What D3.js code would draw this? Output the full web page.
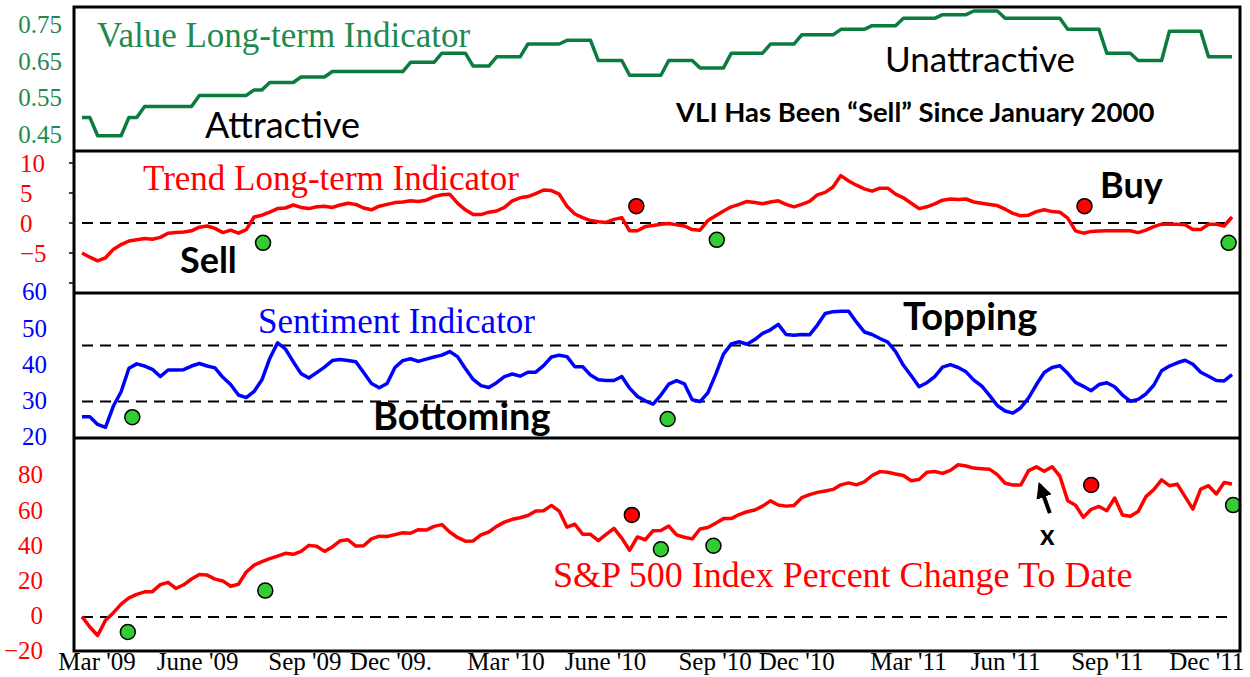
<!DOCTYPE html>
<meta charset="utf-8">
<style>
body { margin: 0; background: #fff; }
.serif { font-family: "Liberation Serif", "Times New Roman", serif; }
.sans { font-family: Lato, "Open Sans", sans-serif; }
</style>
<body>
<script src="https://cdn.jsdelivr.net/npm/d3@7"></script>
<script>

// weekly readings, first week ending Fri 6 Mar 2009
var startDate = "2009-03-06";

var vli = [0.49,0.49,0.44,0.44,0.44,0.44,0.49,0.49,
  0.52,0.52,0.52,0.52,0.52,0.52,0.52,
  0.55,0.55,0.55,0.55,0.55,0.55,0.55,
  0.565,0.565,0.585,0.585,0.585,0.585,0.60,0.60,0.60,0.60,
  0.615,0.615,0.615,0.615,0.615,0.615,0.615,0.615,0.615,0.615,
  0.64,0.64,0.64,0.64,0.665,0.665,0.665,0.665,0.63,0.63,0.63,
  0.655,0.655,0.655,0.655,0.69,0.69,0.69,0.69,0.69,
  0.70,0.70,0.70,0.70,0.645,0.645,0.645,0.645,
  0.605,0.605,0.605,0.605,0.605,0.645,0.645,0.645,0.645,
  0.625,0.625,0.625,0.625,0.665,0.665,0.665,0.665,0.665,
  0.69,0.69,0.69,0.69,0.715,0.715,0.715,0.715,0.715,
  0.73,0.73,0.73,0.73,0.74,0.74,0.74,0.74,
  0.76,0.76,0.76,0.76,0.76,0.77,0.77,0.77,0.77,0.78,0.78,0.78,0.78,
  0.76,0.76,0.76,0.76,0.76,0.76,0.76,0.76,0.73,0.73,0.73,0.73,0.73,
  0.665,0.665,0.665,0.665,0.645,0.645,0.645,0.645,
  0.725,0.725,0.725,0.725,0.725,0.655,0.655,0.655,0.655];

var tli = [-5.0,-5.7,-6.3,-5.8,-4.4,-3.6,-3.0,-2.8,-2.6,-2.7,
  -2.4,-1.7,-1.6,-1.5,-1.3,-0.7,-0.5,-0.9,-1.6,-1.2,
  -1.7,-1.1,1.0,1.3,1.8,2.4,2.5,3.0,2.6,2.4,
  2.7,2.8,2.6,3.0,3.3,3.1,2.5,2.2,2.8,3.1,
  3.4,3.5,3.7,3.6,3.8,4.4,4.7,4.8,3.3,2.2,
  1.4,1.4,1.8,2.0,2.6,3.7,4.2,4.4,4.9,5.5,
  5.4,4.8,2.8,1.5,0.9,0.4,0.2,0.1,0.6,0.9,
  -1.3,-1.3,-0.6,-0.4,-0.2,-0.1,-0.3,-0.5,-1.1,-1.2,
  0.4,1.2,2.0,2.7,3.1,3.6,3.4,3.2,3.5,3.7,
  3.1,2.7,3.1,3.6,4.7,5.1,6.0,7.9,7.0,6.3,
  5.7,5.3,5.8,5.8,4.8,4.2,3.3,2.4,2.7,3.2,
  3.8,4.0,3.9,4.0,3.5,3.3,3.1,2.9,2.3,1.6,
  1.2,1.3,1.9,2.2,1.9,1.8,0.8,-1.3,-1.7,-1.4,
  -1.35,-1.3,-1.3,-1.3,-1.3,-1.6,-1.2,-0.6,-0.2,-0.2,
  -0.2,-0.3,-1.1,-1.1,-0.2,-0.2,-0.5,1.0];

var sentiment = [25.3,25.3,23.2,22.4,28.2,32.2,38.7,39.9,39.3,38.4,
  36.4,38.2,38.2,38.3,39.3,40.0,39.3,38.8,36.2,34.2,
  31.3,30.6,32.3,35.5,41.4,45.7,44.0,40.5,37.2,36.0,
  37.5,39.0,40.8,41.1,40.8,40.5,37.5,34.5,33.3,34.5,
  38.9,40.8,41.3,40.6,41.2,41.8,42.3,43.3,41.9,38.6,
  35.6,33.9,33.4,34.7,36.4,37.1,36.5,37.6,37.6,39.4,
  41.8,42.3,41.9,39.1,39.1,36.8,35.5,35.3,35.3,36.4,
  33.2,30.9,29.7,28.8,31.3,34.3,35.3,34.4,30.0,29.5,
  31.9,37.0,42.6,45.4,46.0,45.3,46.6,48.3,49.3,50.8,
  48.0,47.8,48.0,47.9,50.6,53.8,54.3,54.4,54.4,51.4,
  48.7,48.0,46.9,45.9,43.3,39.5,36.6,33.6,34.7,36.4,
  39.0,39.7,38.9,37.7,35.4,33.8,31.2,28.4,26.9,26.3,
  27.8,30.5,34.2,37.5,38.9,39.4,37.3,34.8,33.7,32.5,
  34.2,34.7,33.6,31.3,29.6,30.1,31.6,34.0,38.0,39.3,
  40.2,40.9,39.8,37.6,36.5,35.3,35.2,36.9];

var spx = [0.2,-5.7,-10.5,-1.9,2.3,7.3,10.9,12.9,14.3,14.4,
  18.4,19.7,16.2,18.3,21.6,24.2,23.8,21.5,20.5,17.5,
  18.6,25.6,29.5,31.5,33.2,34.6,36.2,35.6,37.3,40.7,
  40.2,37.3,39.8,43.3,43.9,40.3,40.5,44.4,45.9,45.7,
  46.8,47.9,47.6,49.6,49.4,51.5,52.5,48.3,45.2,43.1,
  43.2,46.7,48.3,51.5,53.9,55.5,56.4,57.7,60.2,60.4,
  63.4,60.2,51.0,52.7,47.0,47.0,43.4,47.0,50.4,44.8,
  37.9,45.5,43.9,49.0,49.1,51.7,46.7,45.3,44.4,50.0,
  50.8,53.3,55.9,55.9,58.2,59.8,60.8,63.0,66.0,63.6,
  63.0,63.4,67.8,69.5,70.8,71.6,72.5,75.1,76.2,75.1,
  76.8,80.4,82.6,82.2,81.3,80.4,77.4,78.1,82.2,82.7,
  81.6,83.3,86.5,85.8,84.6,84.3,84.0,80.9,76.0,75.0,
  75.0,83.2,85.3,82.8,85.4,80.0,66.0,63.5,56.6,61.2,
  62.8,60.4,67.6,58.0,57.3,59.9,68.4,72.4,77.9,74.6,
  75.5,68.4,61.3,72.7,74.6,69.9,76.4,75.6];

// signal dots
var tliSignals = [
  {date: "2009-08-15", value: -3.3, kind: "buy"},
  {date: "2010-07-15", value: 2.8, kind: "sell"},
  {date: "2010-09-25", value: -2.8, kind: "buy"},
  {date: "2011-08-20", value: 2.8, kind: "sell"},
  {date: "2011-12-27", value: -3.3, kind: "buy"}];
var sentimentSignals = [
  {date: "2009-04-20", value: 25.2, kind: "buy"},
  {date: "2010-08-12", value: 24.7, kind: "buy"}];
var spxSignals = [
  {date: "2009-04-16", value: -8.5, kind: "buy"},
  {date: "2009-08-17", value: 15, kind: "buy"},
  {date: "2010-07-11", value: 58, kind: "sell"},
  {date: "2010-08-06", value: 38.5, kind: "buy"},
  {date: "2010-09-22", value: 40.5, kind: "buy"},
  {date: "2011-08-26", value: 75, kind: "sell"},
  {date: "2011-12-31", value: 63.6, kind: "buy"}];

// reference levels
var tliLevels = [0];
var sentimentLevels = [45, 29.5];
var spxLevels = [0];

// axis ticks
var xTickDates = ["2009-03-19","2009-06-17","2009-09-21","2009-12-07","2010-03-20","2010-06-17",
  "2010-09-23","2010-12-05","2011-03-15","2011-06-10","2011-09-09","2011-12-07"];
var xTickLabels = ["Mar '09","June '09","Sep '09","Dec '09.","Mar '10","June '10",
  "Sep '10","Dec '10","Mar '11","Jun '11","Sep '11","Dec '11"];
var vliTicks = [0.45, 0.55, 0.65, 0.75];
var tliTicks = [-5, 0, 5, 10];
var sentimentTicks = [20, 30, 40, 50, 60];
var spxTicks = [-20, 0, 20, 40, 60, 80];

var width = 1250, height = 677;
var box = {left: 74, right: 1240, top: 7, bottom: 651};
var seps = [151, 293, 438];

var parse = d3.timeParse("%Y-%m-%d");
var start = parse(startDate);
var dates = vli.map(function(d, i) { return d3.timeDay.offset(start, 7 * i); });

var x = d3.scaleTime()
    .domain([dates[0], dates[dates.length - 1]])
    .range([82, 1232]);

var yV = d3.scaleLinear().domain([0.45, 0.75]).range([132.1, 22]);
var yT = d3.scaleLinear().domain([-10, 10]).range([283, 163]);
var yS = d3.scaleLinear().domain([20, 60]).range([436, 291]);
var yP = d3.scaleLinear().domain([-20, 80]).range([652.2, 476.2]);

var svg = d3.select("body").append("svg")
    .attr("width", width)
    .attr("height", height);

function drawLine(data, y, color, w) {
  svg.append("path")
      .datum(data)
      .attr("fill", "none")
      .attr("stroke", color)
      .attr("stroke-width", w)
      .attr("stroke-linejoin", "round")
      .attr("d", d3.line()
        .x(function(d, i) { return x(dates[i]); })
        .y(function(d) { return y(d); }));
}

function drawLevels(levels, y) {
  svg.selectAll(null)
      .data(levels)
    .enter().append("line")
      .attr("x1", x(dates[0]))
      .attr("x2", x(dates[dates.length - 1]))
      .attr("y1", function(d) { return y(d); })
      .attr("y2", function(d) { return y(d); })
      .attr("stroke", "#000")
      .attr("stroke-width", 2)
      .attr("stroke-dasharray", "11,7");
}

function drawSignals(sig, y) {
  svg.selectAll(null)
      .data(sig)
    .enter().append("circle")
      .attr("cx", function(d) { return x(parse(d.date)); })
      .attr("cy", function(d) { return y(d.value); })
      .attr("r", 7.5)
      .attr("fill", function(d) { return d.kind == "buy" ? "#33cc33" : "#ff0000"; })
      .attr("stroke", "#000")
      .attr("stroke-width", 1.5);
}

// left axes
function drawAxis(ticks, y, fmt, color, tx, anchor, dy) {
  var g = svg.append("g")
      .attr("transform", "translate(" + box.left + ",0)")
      .call(d3.axisLeft(y).tickValues(ticks).tickSize(0).tickFormat(fmt));
  g.select(".domain").remove();
  g.selectAll("text")
      .attr("class", "serif")
      .attr("x", tx - box.left)
      .attr("dy", dy)
      .attr("text-anchor", anchor)
      .attr("font-size", 25)
      .attr("fill", color);
  return g;
}

drawLevels(tliLevels, yT);
drawLevels(sentimentLevels, yS);
drawLevels(spxLevels, yP);

drawLine(vli, yV, "#0a7d3e", 3.5);
drawLine(tli, yT, "#ff0000", 3.5);
drawLine(sentiment, yS, "#0000ff", 3.5);
drawLine(spx, yP, "#ff0000", 3.5);

drawSignals(tliSignals, yT);
drawSignals(sentimentSignals, yS);
drawSignals(spxSignals, yP);

drawAxis(vliTicks, yV, d3.format(".2f"), "#1f8a50", 62, "end", "0.42em");
drawAxis(tliTicks, yT, d3.format("d"), "#ff0000", 20, "start", "0.35em");
drawAxis(sentimentTicks, yS, d3.format("d"), "#0000ff", 22, "start", "0.35em");
drawAxis(spxTicks, yP, d3.format("d"), "#ff0000", 43, "end", "0.27em");

// small tick marks on the trend panel
svg.selectAll(null)
    .data([-10, -5, 0, 5, 10])
  .enter().append("line")
    .attr("x1", box.left - 5).attr("x2", box.left)
    .attr("y1", function(d) { return yT(d); })
    .attr("y2", function(d) { return yT(d); })
    .attr("stroke", "#000").attr("stroke-width", 1.5);

// x axis
var xa = svg.append("g")
    .attr("transform", "translate(0," + box.bottom + ")")
    .call(d3.axisBottom(x)
      .tickValues(xTickDates.map(parse))
      .tickSize(0)
      .tickFormat(function(d, i) { return xTickLabels[i]; }));
xa.select(".domain").remove();
xa.selectAll("text")
    .attr("class", "serif")
    .attr("y", 19)
    .attr("dy", null)
    .attr("font-size", 25)
    .attr("fill", "#000");

// frame
svg.append("rect")
    .attr("x", box.left).attr("y", box.top)
    .attr("width", box.right - box.left)
    .attr("height", box.bottom - box.top)
    .attr("fill", "none").attr("stroke", "#000").attr("stroke-width", 3);
svg.selectAll(null)
    .data(seps)
  .enter().append("line")
    .attr("x1", box.left).attr("x2", box.right)
    .attr("y1", function(d) { return d; }).attr("y2", function(d) { return d; })
    .attr("stroke", "#000").attr("stroke-width", 3);

// panel titles and notes
var notes = [
  {t: "Value Long-term Indicator", x: 97, y: 47, cls: "serif", size: 35, fill: "#1f8a50"},
  {t: "Trend Long-term Indicator", x: 143, y: 190, cls: "serif", size: 35, fill: "#ff0000"},
  {t: "Sentiment Indicator", x: 258, y: 333, cls: "serif", size: 35, fill: "#0000ff"},
  {t: "S&P 500 Index Percent Change To Date", x: 553, y: 587, cls: "serif", size: 36, fill: "#ff0000"},
  {t: "Attractive", x: 205, y: 138, cls: "sans", size: 36, fill: "#000"},
  {t: "Unattractive", x: 885, y: 72, cls: "sans", size: 35, fill: "#000"},
  {t: "VLI Has Been \u201cSell\u201d Since January 2000", x: 676, y: 122, cls: "sans", size: 27.5, fill: "#000", bold: true},
  {t: "Sell", x: 180, y: 273, cls: "sans", size: 36, fill: "#000", bold: true},
  {t: "Buy", x: 1100, y: 198, cls: "sans", size: 36, fill: "#000", bold: true},
  {t: "Topping", x: 903, y: 330, cls: "sans", size: 38, fill: "#000", bold: true},
  {t: "Bottoming", x: 373, y: 430, cls: "sans", size: 38, fill: "#000", bold: true},
  {t: "x", x: 1040, y: 545, cls: "sans", size: 28, fill: "#000", bold: true}
];
svg.selectAll(null)
    .data(notes)
  .enter().append("text")
    .attr("class", function(d) { return d.cls; })
    .attr("x", function(d) { return d.x; })
    .attr("y", function(d) { return d.y; })
    .attr("font-size", function(d) { return d.size; })
    .attr("font-weight", function(d) { return d.bold ? "bold" : "normal"; })
    .attr("fill", function(d) { return d.fill; })
    .text(function(d) { return d.t; });

// arrow pointing at the July 2011 high
svg.append("defs").append("marker")
    .attr("id", "head")
    .attr("viewBox", "0 0 10 10")
    .attr("refX", 8).attr("refY", 5)
    .attr("markerWidth", 4).attr("markerHeight", 4)
    .attr("orient", "auto")
  .append("path")
    .attr("d", "M0,0L10,5L0,10z")
    .attr("fill", "#000");
svg.append("line")
    .attr("x1", x(parse("2011-07-20"))).attr("y1", yP(59))
    .attr("x2", x(parse("2011-07-11"))).attr("y2", yP(75))
    .attr("stroke", "#000").attr("stroke-width", 4)
    .attr("marker-end", "url(#head)");

</script>
</body>
